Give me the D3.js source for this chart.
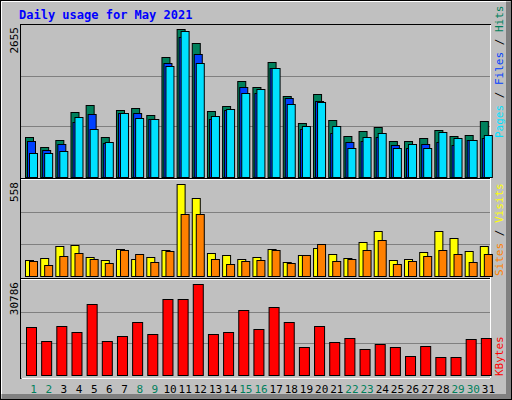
<!DOCTYPE html>
<html><head><meta charset="utf-8">
<script src="https://cdn.jsdelivr.net/npm/d3@7"></script>
<style>body{margin:0;background:#fff}svg{display:block}</style>
</head><body>
<svg id="chart" width="512" height="400"></svg>
<script>
// values (May 2021)
const days = d3.range(1, 32);
const weekend = [1, 2, 8, 9, 15, 16, 22, 23, 29, 30];
const hits  = [699,524,646,1136,1258,699,1171,1206,1083,2096,2586,2341,1153,1240,1677,1572,2009,1415,943,1450,996,716,804,873,629,629,681,821,716,734,978];
const files = [629,472,577,961,1101,594,1118,1118,1013,1992,2446,2149,1013,1171,1572,1467,1904,1380,839,1328,769,611,629,699,559,507,577,611,559,646,681];
const pages = [419,419,454,1048,839,611,1118,1031,1013,1939,2551,1992,1066,1188,1467,1537,1904,1275,891,1310,891,507,699,769,507,577,507,786,681,646,734];
const sites  = [93,105,174,180,110,93,157,99,110,151,535,453,134,122,99,110,157,81,122,163,128,105,198,262,93,99,140,262,221,145,174];
const visits = [87,64,116,134,99,76,151,128,81,145,360,360,99,70,87,93,151,76,122,186,87,99,151,209,70,87,116,151,128,81,128];
const kbytes = [15550,11015,15874,13930,23000,11015,12635,17170,13280,24620,24620,29480,13280,13930,21060,14900,22030,17170,9070,15874,10690,11990,8420,10040,9070,6160,9400,5830,5830,11660,11990];
const maxHits = 2655, maxSites = 558, maxKB = 30786;

const svg = d3.select("#chart");
const font = "'DejaVu Sans Mono', monospace";

// bevelled frame
svg.append("rect").attr("x",0).attr("y",0).attr("width",512).attr("height",400).attr("fill","#c0c0c0");
svg.append("rect").attr("x",0.5).attr("y",0.5).attr("width",511).attr("height",399).attr("fill","none").attr("stroke","#000");
svg.append("path").attr("d","M1.5,398V1.5H510").attr("stroke","#fff").attr("stroke-width",1).attr("fill","none");
svg.append("path").attr("d","M1.5,396.5H508.5V1.5").attr("stroke","#808080").attr("stroke-width",5).attr("fill","none");

svg.append("text").attr("x",19).attr("y",19).text("Daily usage for May 2021")
   .attr("font-family",font).attr("font-weight","bold").attr("font-size",12).attr("fill","#0000ff");

const x = d3.scaleBand().domain(days).range([21, 491]).paddingInner(0);

const panels = [
  {top:25, base:177, max:maxHits, label:String(maxHits)},
  {top:180, base:276, max:maxSites, label:String(maxSites)},
  {top:280, base:375, max:maxKB, label:String(maxKB)}
];
panels.forEach(p => p.y = d3.scaleLinear().domain([0, p.max]).range([p.base, p.top]));

// plot frame
svg.append("rect").attr("x",20.5).attr("y",24.5).attr("width",470).attr("height",354).attr("fill","none").attr("stroke","#000");
svg.append("path").attr("d","M21.5,378.5H490.5V25").attr("stroke","#fff").attr("fill","none");
[178.5, 278.5].forEach(yy => {
  svg.append("line").attr("x1",21).attr("x2",490).attr("y1",yy).attr("y2",yy).attr("stroke","#000");
  svg.append("line").attr("x1",21).attr("x2",490).attr("y1",yy+1).attr("y2",yy+1).attr("stroke","#fff");
});

// gridlines
panels.forEach(p => {
  [1/3, 2/3].forEach(f => {
    const yy = Math.round(p.y(p.max * f)) + 0.5;
    svg.append("line").attr("x1",21).attr("x2",490).attr("y1",yy).attr("y2",yy).attr("stroke","#808080");
  });
  svg.append("text").attr("transform",`translate(18,${p.top+2}) rotate(-90)`)
     .attr("text-anchor","end").attr("font-family",font).attr("font-size",11).attr("fill","#000").text(p.label);
});

function bars(values, panel, dx, w, color) {
  svg.append("g").selectAll("rect").data(values).enter().append("rect")
     .attr("x", (d,i) => x(days[i]) + dx + 0.5)
     .attr("y", d => Math.round(panel.y(d)) + 0.5)
     .attr("width", w)
     .attr("height", d => panel.base - Math.round(panel.y(d)))
     .attr("fill", color).attr("stroke","#000");
}
bars(hits, panels[0], 4, 8, "#00805c");
bars(files, panels[0], 6, 8, "#0040ff");
bars(pages, panels[0], 8, 8, "#00e0ff");
bars(sites, panels[1], 4, 8, "#ffff00");
bars(visits, panels[1], 8, 8, "#ff8000");
bars(kbytes, panels[2], 5, 10, "#ff0000");

// day labels
svg.append("g").selectAll("text").data(days).enter().append("text")
   .attr("x", d => x(d) + x.bandwidth()/2 + 5)
   .attr("y", 393).attr("text-anchor","middle")
   .attr("font-family",font).attr("font-size",11)
   .attr("fill", d => weekend.includes(d) ? "#00805c" : "#000").text(d => d);

// right-hand legends
function legend(yBottom, parts) {
  const t = svg.append("text").attr("transform",`translate(503,${yBottom}) rotate(-90)`)
     .attr("font-family",font).attr("font-size",11);
  parts.forEach(([s,c]) => t.append("tspan").attr("fill",c).text(s));
}
legend(138, [["Pages","#00e0ff"],[" / ","#000"],["Files","#0040ff"],[" / ","#000"],["Hits","#00805c"]]);
legend(276, [["Sites","#ff8000"],[" / ","#000"],["Visits","#ffff00"]]);
legend(376, [["KBytes","#ff0000"]]);
</script>
</body></html>
